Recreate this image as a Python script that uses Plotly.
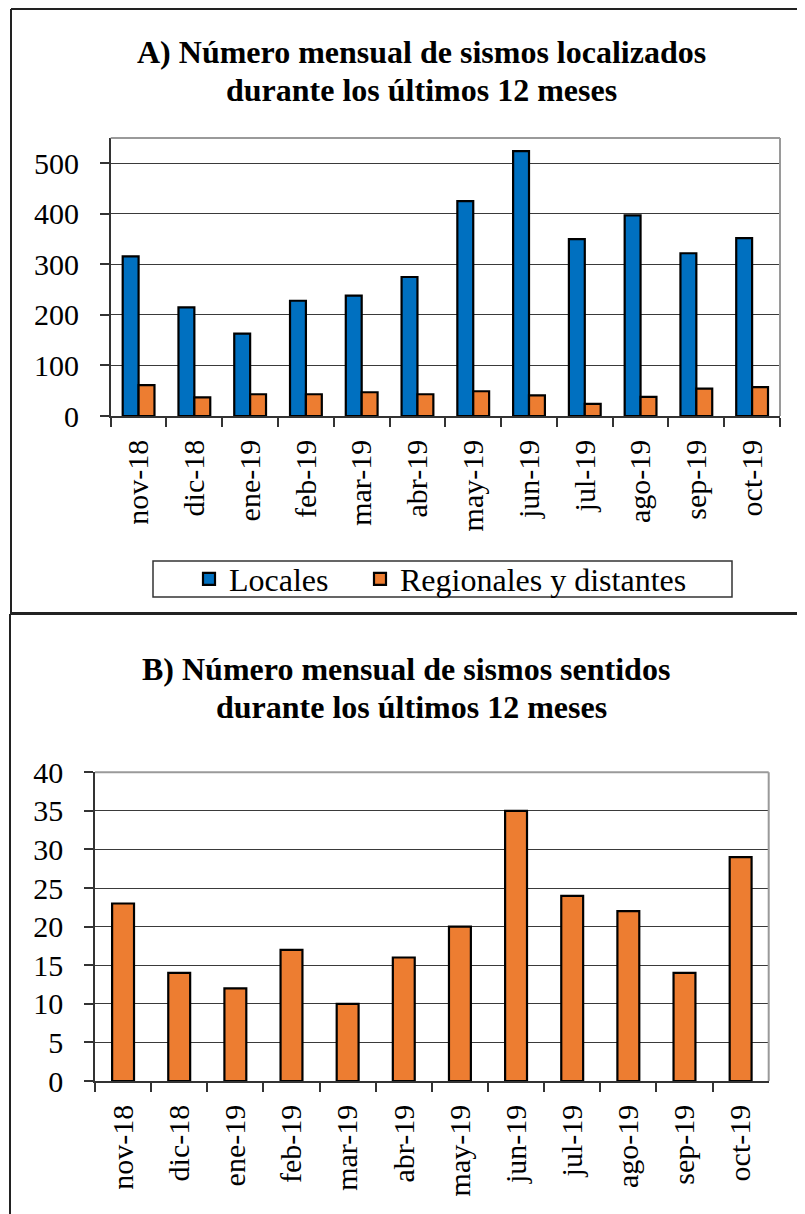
import plotly.graph_objects as go

months = ["nov-18", "dic-18", "ene-19", "feb-19", "mar-19", "abr-19",
          "may-19", "jun-19", "jul-19", "ago-19", "sep-19", "oct-19"]
locales = [316, 215, 163, 228, 238, 275, 425, 524, 350, 397, 322, 352]
regionales = [61, 37, 43, 43, 47, 43, 49, 41, 24, 38, 54, 57]
sentidos = [23, 14, 12, 17, 10, 16, 20, 35, 24, 22, 14, 29]

yticks_a = [0, 100, 200, 300, 400, 500]
yticks_b = [0, 5, 10, 15, 20, 25, 30, 35, 40]

# page body has an 8px margin: figure is offset by OFF in the window
OFF = 8
W, H = 805 - OFF, 1214 - OFF
FONT = "Liberation Serif"
BLUE = "#0070C0"
ORANGE = "#ED7D31"
DARK = "#333333"


def px(x):
    return (x - OFF) / W


def py(y):
    return 1 - (y - OFF) / H


fig = go.Figure()
fig.add_bar(x=months, y=locales, name="Locales", xaxis="x", yaxis="y", legend="legend",
            marker=dict(color=BLUE, line=dict(color="black", width=2.2)))
fig.add_bar(x=months, y=regionales, name="Regionales y distantes", xaxis="x", yaxis="y",
            legend="legend2",
            marker=dict(color=ORANGE, line=dict(color="black", width=2.2)))
fig.add_bar(x=months, y=sentidos, name="Sentidos", xaxis="x2", yaxis="y2", showlegend=False,
            width=0.39, marker=dict(color=ORANGE, line=dict(color="black", width=2.2)))

xcommon = dict(type="category", tickson="boundaries", ticks="outside", ticklen=9,
               tickwidth=1.5, tickcolor=DARK, showline=True, linecolor=DARK, linewidth=1.5,
               tickangle=-90, tickfont=dict(family=FONT, size=30, color="black"),
               showgrid=False, ticklabelstandoff=10, automargin=False)
ycommon = dict(ticks="outside", ticklen=9, tickwidth=1.5, tickcolor=DARK,
               showline=True, linecolor=DARK, linewidth=1.5, showgrid=True,
               gridcolor="#3a3a3a", gridwidth=1.3, zeroline=False,
               tickfont=dict(family=FONT, size=30, color="black"), ticklabelstandoff=15,
               automargin=False)

leg = dict(orientation="h", xanchor="left", yanchor="middle",
           font=dict(family=FONT, size=32, color="black"), bgcolor="rgba(0,0,0,0)",
           borderwidth=0)

fig.update_layout(
    width=W, height=H, margin=dict(l=0, r=0, t=0, b=0, pad=0, autoexpand=False),
    paper_bgcolor="white", plot_bgcolor="white",
    barmode="group", bargap=0.43, bargroupgap=0,
    xaxis=dict(domain=[px(110.7), px(780)], anchor="y", **xcommon),
    yaxis=dict(domain=[py(416), py(138)], anchor="x", range=[0, 550],
               tickvals=yticks_a, **ycommon),
    xaxis2=dict(domain=[px(95), px(768.7)], anchor="y2", **xcommon),
    yaxis2=dict(domain=[py(1081), py(772.3)], anchor="x2", range=[0, 40],
                tickvals=yticks_b, **ycommon),
    legend=dict(x=px(189), y=py(579), **leg),
    legend2=dict(x=px(360), y=py(579), **leg),
    font=dict(family=FONT, color="black"),
)

shapes = []
# grey top/right borders of plot areas
for xa, ya in (("x", "y"), ("x2", "y2")):
    shapes.append(dict(type="line", xref=f"{xa} domain", yref=f"{ya} domain",
                       x0=0, x1=1, y0=1, y1=1, line=dict(color="#9a9a9a", width=2)))
    shapes.append(dict(type="line", xref=f"{xa} domain", yref=f"{ya} domain",
                       x0=1, x1=1, y0=0, y1=1, line=dict(color="#9a9a9a", width=2)))
# outer frames
top_y = py(OFF + 1)
shapes.append(dict(type="line", xref="paper", yref="paper", x0=px(11), x1=px(11),
                   y0=top_y, y1=py(613), line=dict(color="#222", width=2)))
shapes.append(dict(type="line", xref="paper", yref="paper", x0=px(11), x1=1,
                   y0=top_y, y1=top_y, line=dict(color="#222", width=2)))
shapes.append(dict(type="line", xref="paper", yref="paper", x0=px(10), x1=1,
                   y0=py(613.5), y1=py(613.5), line=dict(color="#222", width=3)))
shapes.append(dict(type="line", xref="paper", yref="paper", x0=px(10), x1=px(10),
                   y0=py(614), y1=0, line=dict(color="#222", width=2)))
# legend box
shapes.append(dict(type="rect", xref="paper", yref="paper", x0=px(153), x1=px(732),
                   y0=py(597), y1=py(561), line=dict(color=DARK, width=1.5)))
fig.update_layout(shapes=shapes)

title_font = dict(family=FONT, size=32, color="black", weight="bold")
ann = [
    ("A) Número mensual de sismos localizados", 422, 52),
    ("durante los últimos 12 meses", 422, 90),
    ("B) Número mensual de sismos sentidos", 406, 669),
    ("durante los últimos 12 meses", 411, 707),
]
fig.update_layout(annotations=[
    dict(text=t, x=px(x), y=py(y), xref="paper", yref="paper", xanchor="center",
         yanchor="middle", showarrow=False, font=title_font)
    for t, x, y in ann
])

fig.write_html("out.html")
